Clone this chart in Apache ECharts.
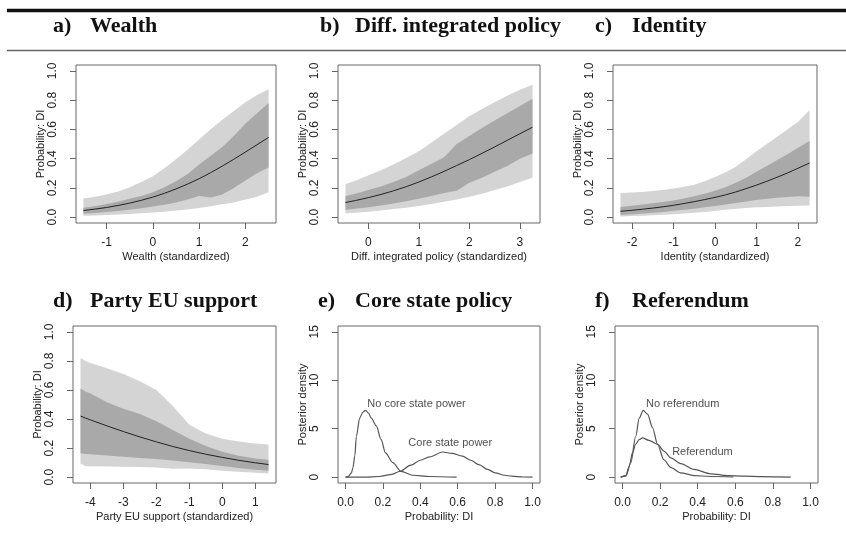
<!DOCTYPE html>
<html>
<head>
<meta charset="utf-8">
<script src="https://cdn.jsdelivr.net/npm/echarts@6/dist/echarts.min.js"></script>
<style>
html, body { margin: 0; padding: 0; background: #fff; }
#main { width: 846px; height: 551px; }
</style>
</head>
<body>
<div id="main"></div>
<script>
// ---- data ----
// a) Wealth
const wealthX   = [-1.5, -1.25, -1, -0.75, -0.5, -0.25, 0, 0.25, 0.5, 0.75, 1, 1.25, 1.5, 1.75, 2, 2.25, 2.5];
const wealthMed = [0.045, 0.055, 0.066, 0.08, 0.096, 0.115, 0.137, 0.163, 0.193, 0.226, 0.263, 0.304, 0.349, 0.396, 0.445, 0.495, 0.545];
const wealthHi95 = [0.128, 0.14, 0.155, 0.175, 0.205, 0.24, 0.28, 0.335, 0.395, 0.46, 0.53, 0.6, 0.665, 0.725, 0.785, 0.835, 0.875];
const wealthLo95 = [0.01, 0.012, 0.015, 0.018, 0.022, 0.026, 0.031, 0.037, 0.045, 0.053, 0.063, 0.075, 0.088, 0.1, 0.12, 0.14, 0.17];
const wealthHi80 = [0.064, 0.075, 0.09, 0.105, 0.125, 0.145, 0.17, 0.205, 0.245, 0.295, 0.36, 0.42, 0.48, 0.555, 0.64, 0.71, 0.78];
const wealthLo80 = [0.023, 0.029, 0.035, 0.042, 0.05, 0.06, 0.072, 0.085, 0.1, 0.12, 0.145, 0.135, 0.155, 0.2, 0.25, 0.3, 0.34];

// b) Diff. integrated policy
const diffX   = [-0.45, -0.25, 0, 0.25, 0.5, 0.75, 1, 1.25, 1.5, 1.75, 2, 2.25, 2.5, 2.75, 3, 3.25];
const diffMed = [0.10, 0.114, 0.133, 0.155, 0.18, 0.208, 0.24, 0.275, 0.313, 0.353, 0.393, 0.436, 0.48, 0.525, 0.57, 0.615];
const diffHi95 = [0.225, 0.25, 0.285, 0.32, 0.36, 0.405, 0.45, 0.51, 0.57, 0.63, 0.69, 0.74, 0.785, 0.83, 0.87, 0.905];
const diffLo95 = [0.025, 0.03, 0.037, 0.045, 0.055, 0.065, 0.077, 0.09, 0.105, 0.12, 0.14, 0.16, 0.185, 0.21, 0.24, 0.27];
const diffHi80 = [0.145, 0.16, 0.185, 0.21, 0.24, 0.275, 0.32, 0.365, 0.41, 0.5, 0.555, 0.61, 0.66, 0.71, 0.76, 0.81];
const diffLo80 = [0.05, 0.058, 0.068, 0.08, 0.093, 0.108, 0.125, 0.145, 0.165, 0.18, 0.235, 0.27, 0.31, 0.35, 0.4, 0.435];

// c) Identity
const identX   = [-2.28, -2, -1.75, -1.5, -1.25, -1, -0.75, -0.5, -0.25, 0, 0.25, 0.5, 0.75, 1, 1.25, 1.5, 1.75, 2, 2.28];
const identMed = [0.04, 0.047, 0.054, 0.062, 0.071, 0.081, 0.093, 0.106, 0.12, 0.135, 0.152, 0.172, 0.195, 0.219, 0.245, 0.273, 0.302, 0.334, 0.37];
const identHi95 = [0.165, 0.168, 0.172, 0.178, 0.186, 0.195, 0.207, 0.222, 0.245, 0.275, 0.305, 0.345, 0.395, 0.45, 0.5, 0.55, 0.6, 0.65, 0.73];
const identLo95 = [0.005, 0.007, 0.01, 0.013, 0.016, 0.02, 0.025, 0.03, 0.036, 0.042, 0.05, 0.058, 0.063, 0.067, 0.07, 0.073, 0.076, 0.078, 0.08];
const identHi80 = [0.07, 0.078, 0.086, 0.095, 0.104, 0.114, 0.127, 0.142, 0.16, 0.18, 0.205, 0.235, 0.27, 0.31, 0.35, 0.39, 0.43, 0.475, 0.52];
const identLo80 = [0.015, 0.02, 0.025, 0.03, 0.036, 0.043, 0.05, 0.058, 0.067, 0.077, 0.087, 0.097, 0.107, 0.117, 0.125, 0.132, 0.138, 0.143, 0.14];

// d) Party EU support
const partyX   = [-4.3, -4.15, -4, -3.5, -3, -2.5, -2, -1.5, -1, -0.5, 0, 0.5, 1, 1.4];
const partyMed = [0.42, 0.407, 0.394, 0.353, 0.314, 0.277, 0.243, 0.211, 0.183, 0.158, 0.136, 0.116, 0.099, 0.087];
const partyHi95 = [0.82, 0.8, 0.785, 0.75, 0.71, 0.66, 0.6, 0.49, 0.36, 0.3, 0.265, 0.245, 0.232, 0.225];
const partyLo95 = [0.095, 0.075, 0.075, 0.073, 0.072, 0.07, 0.066, 0.058, 0.06, 0.055, 0.045, 0.038, 0.03, 0.025];
const partyHi80 = [0.61, 0.59, 0.575, 0.515, 0.47, 0.435, 0.385, 0.325, 0.265, 0.215, 0.175, 0.148, 0.128, 0.12];
const partyLo80 = [0.165, 0.16, 0.157, 0.15, 0.14, 0.132, 0.125, 0.115, 0.103, 0.09, 0.077, 0.064, 0.052, 0.045];

// e) Core state policy (posterior densities)
const noCoreX = [0, 0.014, 0.032, 0.04, 0.05, 0.058, 0.076, 0.093, 0.108, 0.123, 0.138, 0.165, 0.19, 0.214, 0.253, 0.297, 0.36, 0.45, 0.594];
const noCoreY = [0, 0.05, 0.45, 1.0, 2.2, 4.2, 6.1, 6.7, 6.9, 6.6, 6.1, 5.3, 3.9, 2.5, 1.5, 0.6, 0.2, 0.07, 0];
const coreX = [0, 0.1, 0.18, 0.25, 0.29, 0.35, 0.4, 0.45, 0.52, 0.57, 0.625, 0.67, 0.713, 0.76, 0.8, 0.85, 0.89, 0.95, 1.0];
const coreY = [0, 0, 0.07, 0.3, 0.6, 1.25, 1.75, 2.1, 2.6, 2.45, 2.17, 1.75, 1.3, 0.8, 0.45, 0.2, 0.1, 0.02, 0];
const coreLabels = ['No core state power', 'Core state power'];
const coreLabelPos = [[0.38, 7.6], [0.56, 3.55]];

// f) Referendum (posterior densities)
const noRefX = [-0.01, 0.018, 0.044, 0.07, 0.089, 0.11, 0.133, 0.16, 0.186, 0.22, 0.257, 0.31, 0.38, 0.47, 0.59];
const noRefY = [0, 0.1, 1.5, 4.2, 6.1, 6.9, 6.5, 5.1, 3.4, 1.8, 1.0, 0.45, 0.17, 0.07, 0.02];
const refX = [-0.01, 0.018, 0.035, 0.053, 0.07, 0.09, 0.106, 0.14, 0.186, 0.22, 0.257, 0.31, 0.38, 0.47, 0.56, 0.65, 0.74, 0.895];
const refY = [0, 0.2, 1.1, 2.5, 3.4, 3.9, 4.05, 3.8, 3.4, 2.7, 2.0, 1.4, 0.8, 0.35, 0.17, 0.1, 0.06, 0];
const refLabels = ['No referendum', 'Referendum'];
const refLabelPos = [[0.32, 7.6], [0.425, 2.6]];

// tick labels
const probTicks = [0, 0.2, 0.4, 0.6, 0.8, 1.0];
const densTicks = [0, 5, 10, 15];
const wealthTicks = [-1, 0, 1, 2];
const diffTicks = [0, 1, 2, 3];
const identTicks = [-2, -1, 0, 1, 2];
const partyTicks = [-4, -3, -2, -1, 0, 1];

const panelTitles = [
    ['a)', 'Wealth'], ['b)', 'Diff. integrated policy'], ['c)', 'Identity'],
    ['d)', 'Party EU support'], ['e)', 'Core state policy'], ['f)', 'Referendum']
];

// ---- layout / style ----
const SANS = '"Liberation Sans", Arial, sans-serif';
const SERIF = '"Liberation Serif", "Times New Roman", serif';
const LIGHT = '#d4d4d4';
const DARK = '#a9a9a9';

const grids = [
    { left: 76,  top: 65,  width: 200, height: 158 },
    { left: 338, top: 65,  width: 202, height: 158 },
    { left: 613, top: 65,  width: 204, height: 158 },
    { left: 73,  top: 326, width: 203, height: 157 },
    { left: 338, top: 326, width: 202, height: 157 },
    { left: 615, top: 326, width: 203, height: 157 }
].map(g => Object.assign({ show: true, borderColor: '#666', borderWidth: 1, containLabel: false }, g));

function xAx(i, min, max, ticks, fmt, name) {
    return {
        type: 'value', gridIndex: i, min: min, max: max,
        name: name, nameLocation: 'middle', nameGap: 28,
        nameTextStyle: { fontFamily: SANS, fontSize: 11, color: '#222' },
        axisLine: { show: false, onZero: false }, splitLine: { show: false },
        axisTick: { show: true, length: 6, customValues: ticks, lineStyle: { color: '#666' } },
        axisLabel: { customValues: ticks, formatter: fmt, margin: 14, fontFamily: SANS, fontSize: 12, color: '#222' }
    };
}
function yAx(i, min, max, ticks, fmt, name) {
    return {
        type: 'value', gridIndex: i, min: min, max: max,
        name: name, nameLocation: 'middle', nameGap: 30,
        nameTextStyle: { fontFamily: SANS, fontSize: 11, color: '#222' },
        axisLine: { show: false, onZero: false }, splitLine: { show: false },
        axisTick: { show: true, length: 6, customValues: ticks, lineStyle: { color: '#666' } },
        axisLabel: { customValues: ticks, formatter: fmt, rotate: 90, margin: 17, fontFamily: SANS, fontSize: 12, color: '#222' }
    };
}
const f1 = v => v.toFixed(1);
const f0 = v => String(Math.round(v));

function band(i, xs, lo, hi, color) {
    return {
        type: 'custom', xAxisIndex: i, yAxisIndex: i, silent: true, z: 1,
        data: xs.map((x, k) => [x, lo[k], hi[k]]),
        encode: { x: 0, y: [1, 2] },
        renderItem: function (params, api) {
            if (params.dataIndex !== 0) return null;
            const pts = [];
            for (let k = 0; k < xs.length; k++) pts.push(api.coord([xs[k], hi[k]]));
            for (let k = xs.length - 1; k >= 0; k--) pts.push(api.coord([xs[k], lo[k]]));
            return { type: 'polygon', shape: { points: pts }, style: { fill: color } };
        }
    };
}
function medLine(i, xs, ys) {
    return {
        type: 'line', xAxisIndex: i, yAxisIndex: i, z: 3, showSymbol: false, silent: true,
        data: xs.map((x, k) => [x, ys[k]]),
        lineStyle: { color: '#222', width: 1 }
    };
}
function densLine(i, xs, ys) {
    return {
        type: 'line', xAxisIndex: i, yAxisIndex: i, showSymbol: false, silent: true,
        smooth: 0.3, smoothMonotone: 'x',
        data: xs.map((x, k) => [x, ys[k]]),
        lineStyle: { color: '#555', width: 1.2 }
    };
}
function textMarks(i, texts, pos) {
    return {
        type: 'scatter', xAxisIndex: i, yAxisIndex: i, symbolSize: 1, silent: true,
        itemStyle: { color: 'rgba(0,0,0,0)' },
        data: pos.map((p, k) => ({ value: p, name: texts[k] })),
        label: { show: true, position: 'inside', formatter: '{b}', fontFamily: SANS, fontSize: 11, color: '#222' }
    };
}

const xAxes = [
    xAx(0, -1.66, 2.66, wealthTicks, f0, 'Wealth (standardized)'),
    xAx(1, -0.598, 3.398, diffTicks, f0, 'Diff. integrated policy (standardized)'),
    xAx(2, -2.46, 2.46, identTicks, f0, 'Identity (standardized)'),
    xAx(3, -4.528, 1.628, partyTicks, f0, 'Party EU support (standardized)'),
    xAx(4, -0.04, 1.04, probTicks, f1, 'Probability: DI'),
    xAx(5, -0.04, 1.04, probTicks, f1, 'Probability: DI')
];
const yAxes = [
    yAx(0, -0.04, 1.04, probTicks, f1, 'Probability: DI'),
    yAx(1, -0.04, 1.04, probTicks, f1, 'Probability: DI'),
    yAx(2, -0.04, 1.04, probTicks, f1, 'Probability: DI'),
    yAx(3, -0.04, 1.04, probTicks, f1, 'Probability: DI'),
    yAx(4, -0.6, 15.6, densTicks, f0, 'Posterior density'),
    yAx(5, -0.6, 15.6, densTicks, f0, 'Posterior density')
];

const series = [
    band(0, wealthX, wealthLo95, wealthHi95, LIGHT), band(0, wealthX, wealthLo80, wealthHi80, DARK), medLine(0, wealthX, wealthMed),
    band(1, diffX, diffLo95, diffHi95, LIGHT), band(1, diffX, diffLo80, diffHi80, DARK), medLine(1, diffX, diffMed),
    band(2, identX, identLo95, identHi95, LIGHT), band(2, identX, identLo80, identHi80, DARK), medLine(2, identX, identMed),
    band(3, partyX, partyLo95, partyHi95, LIGHT), band(3, partyX, partyLo80, partyHi80, DARK), medLine(3, partyX, partyMed),
    densLine(4, noCoreX, noCoreY), densLine(4, coreX, coreY), textMarks(4, coreLabels, coreLabelPos),
    densLine(5, noRefX, noRefY), densLine(5, refX, refY), textMarks(5, refLabels, refLabelPos)
];

// panel headers and the table rules above the first row
const headPos = [[53, 90, 26], [320, 355, 26], [595, 632, 26], [53, 90, 301], [318, 355, 301], [595, 632, 301]];
const graphic = [
    { type: 'line', shape: { x1: 7, y1: 10.5, x2: 846, y2: 10.5 }, style: { stroke: '#111', lineWidth: 3.5 } },
    { type: 'line', shape: { x1: 7, y1: 50.5, x2: 846, y2: 50.5 }, style: { stroke: '#666', lineWidth: 1.5 } }
];
panelTitles.forEach((t, k) => {
    const p = headPos[k];
    graphic.push({ type: 'text', x: p[0], y: p[2], style: { text: t[0], font: 'bold 22px ' + SERIF, fill: '#111', verticalAlign: 'middle' } });
    graphic.push({ type: 'text', x: p[1], y: p[2], style: { text: t[1], font: 'bold 22px ' + SERIF, fill: '#111', verticalAlign: 'middle' } });
});

const chart = echarts.init(document.getElementById('main'), null, { renderer: 'canvas' });
chart.setOption({
    backgroundColor: '#fff',
    animation: false,
    grid: grids,
    xAxis: xAxes,
    yAxis: yAxes,
    series: series,
    graphic: graphic
});
</script>
</body>
</html>
